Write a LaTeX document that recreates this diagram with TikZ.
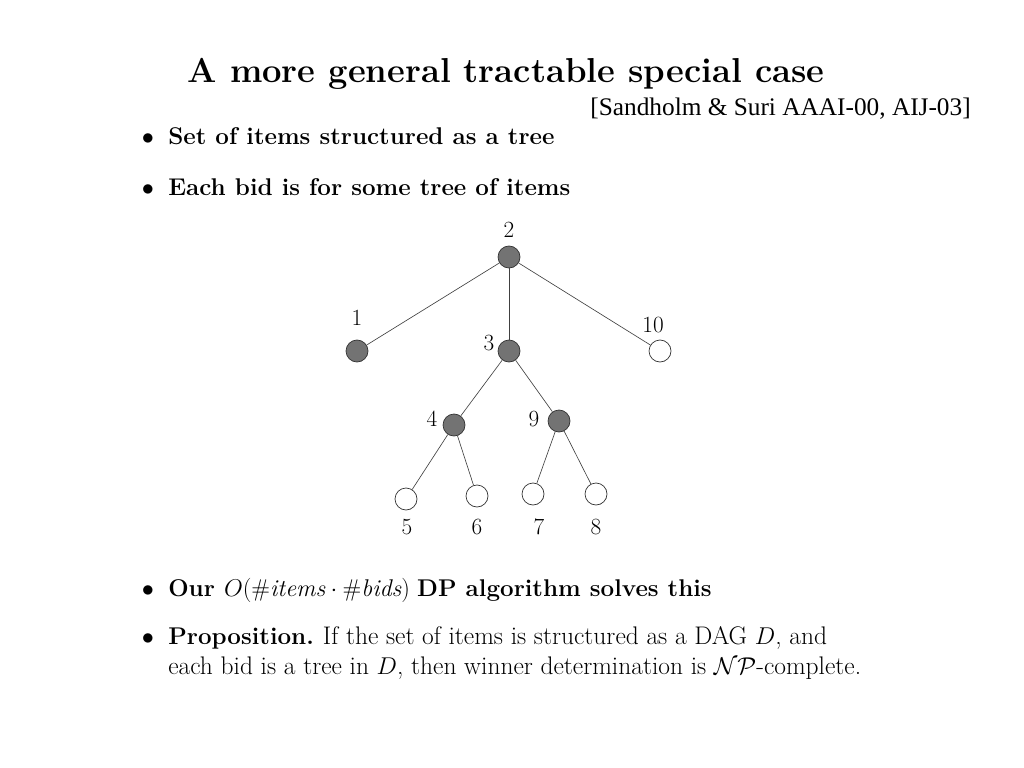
\documentclass[tikz,border=0pt]{standalone}
\usepackage{fontspec}
\newfontfamily\timesfont{Liberation Serif}
\newcommand{\regtext}{\fontsize{18.1}{21}\selectfont\mdseries}
\begin{document}
\begin{tikzpicture}[x=0.025cm,y=-0.025cm,
  leaf/.style={circle,draw=black!80,line width=0.5pt,fill=white,minimum size=22*0.025cm,inner sep=0pt},
  inner/.style={leaf,fill=black!55},
  edge/.style={draw=black!75,line width=0.45pt},
  lbl/.style={font=\fontsize{16.5}{19}\selectfont,inner sep=0pt},
  body/.style={anchor=base west,inner sep=0pt,font=\fontsize{17.2}{20}\selectfont},
  bul/.style={anchor=base,inner sep=0pt,font=\fontsize{17.2}{20}\selectfont}]
\useasboundingbox[fill=white] (0,0) rectangle (1024,768);
% title
\node[anchor=base,inner sep=0pt,font=\fontsize{24.6}{28}\bfseries] (title) at (506,83) {A more general tractable special case};
\node[anchor=base east,inner sep=0pt,font=\timesfont\fontsize{18}{20}\selectfont] (cite) at (971,116) {[Sandholm \& Suri AAAI-00, AIJ-03]};
% bullets
\node[bul] (b1) at (148,145) {$\bullet$};
\node[body] (t1) at (168,145) {\bfseries Set of items structured as a tree};
\node[bul] (b2) at (148,195) {$\bullet$};
\node[body] (t2) at (168,195) {\bfseries Each bid is for some tree of items};
\node[bul] (b3) at (148,596) {$\bullet$};
\node[body] (t3) at (168,596) {\bfseries Our \mdseries$O(\#\mathit{items}\cdot\#\mathit{bids})$ \bfseries DP algorithm solves this};
\node[bul] (b4) at (148,644) {$\bullet$};
\node[body] (t4) at (168,644) {\bfseries Proposition.\ \regtext If the set of items is structured as a DAG $D$, and};
\node[body] (t5) at (168,674) {\regtext each bid is a tree in $D$, then winner determination is $\mathcal{NP}$-complete.};
% tree
\node[inner] (n2) at (509,257) {};
\node[inner] (n1) at (357,351) {};
\node[inner] (n3) at (509,351) {};
\node[leaf] (n10) at (660,351) {};
\node[inner] (n4) at (454,425) {};
\node[inner] (n9) at (559,421) {};
\node[leaf] (n5) at (406,499) {};
\node[leaf] (n6) at (477,496) {};
\node[leaf] (n7) at (533,494) {};
\node[leaf] (n8) at (596,494) {};
\draw[edge] (n2) -- (n1);
\draw[edge] (n2) -- (n3);
\draw[edge] (n2) -- (n10);
\draw[edge] (n3) -- (n4);
\draw[edge] (n3) -- (n9);
\draw[edge] (n4) -- (n5);
\draw[edge] (n4) -- (n6);
\draw[edge] (n9) -- (n7);
\draw[edge] (n9) -- (n8);
\node[lbl] (l2) at (509,230) {2};
\node[lbl] (l1) at (357,318) {1};
\node[lbl] (l3) at (489,343) {3};
\node[lbl] (l10) at (653,325) {10};
\node[lbl] (l4) at (432,419) {4};
\node[lbl] (l9) at (534,419) {9};
\node[lbl] (l5) at (407,527) {5};
\node[lbl] (l6) at (477,527) {6};
\node[lbl] (l7) at (539,527) {7};
\node[lbl] (l8) at (596,527) {8};
\end{tikzpicture}
\end{document}
